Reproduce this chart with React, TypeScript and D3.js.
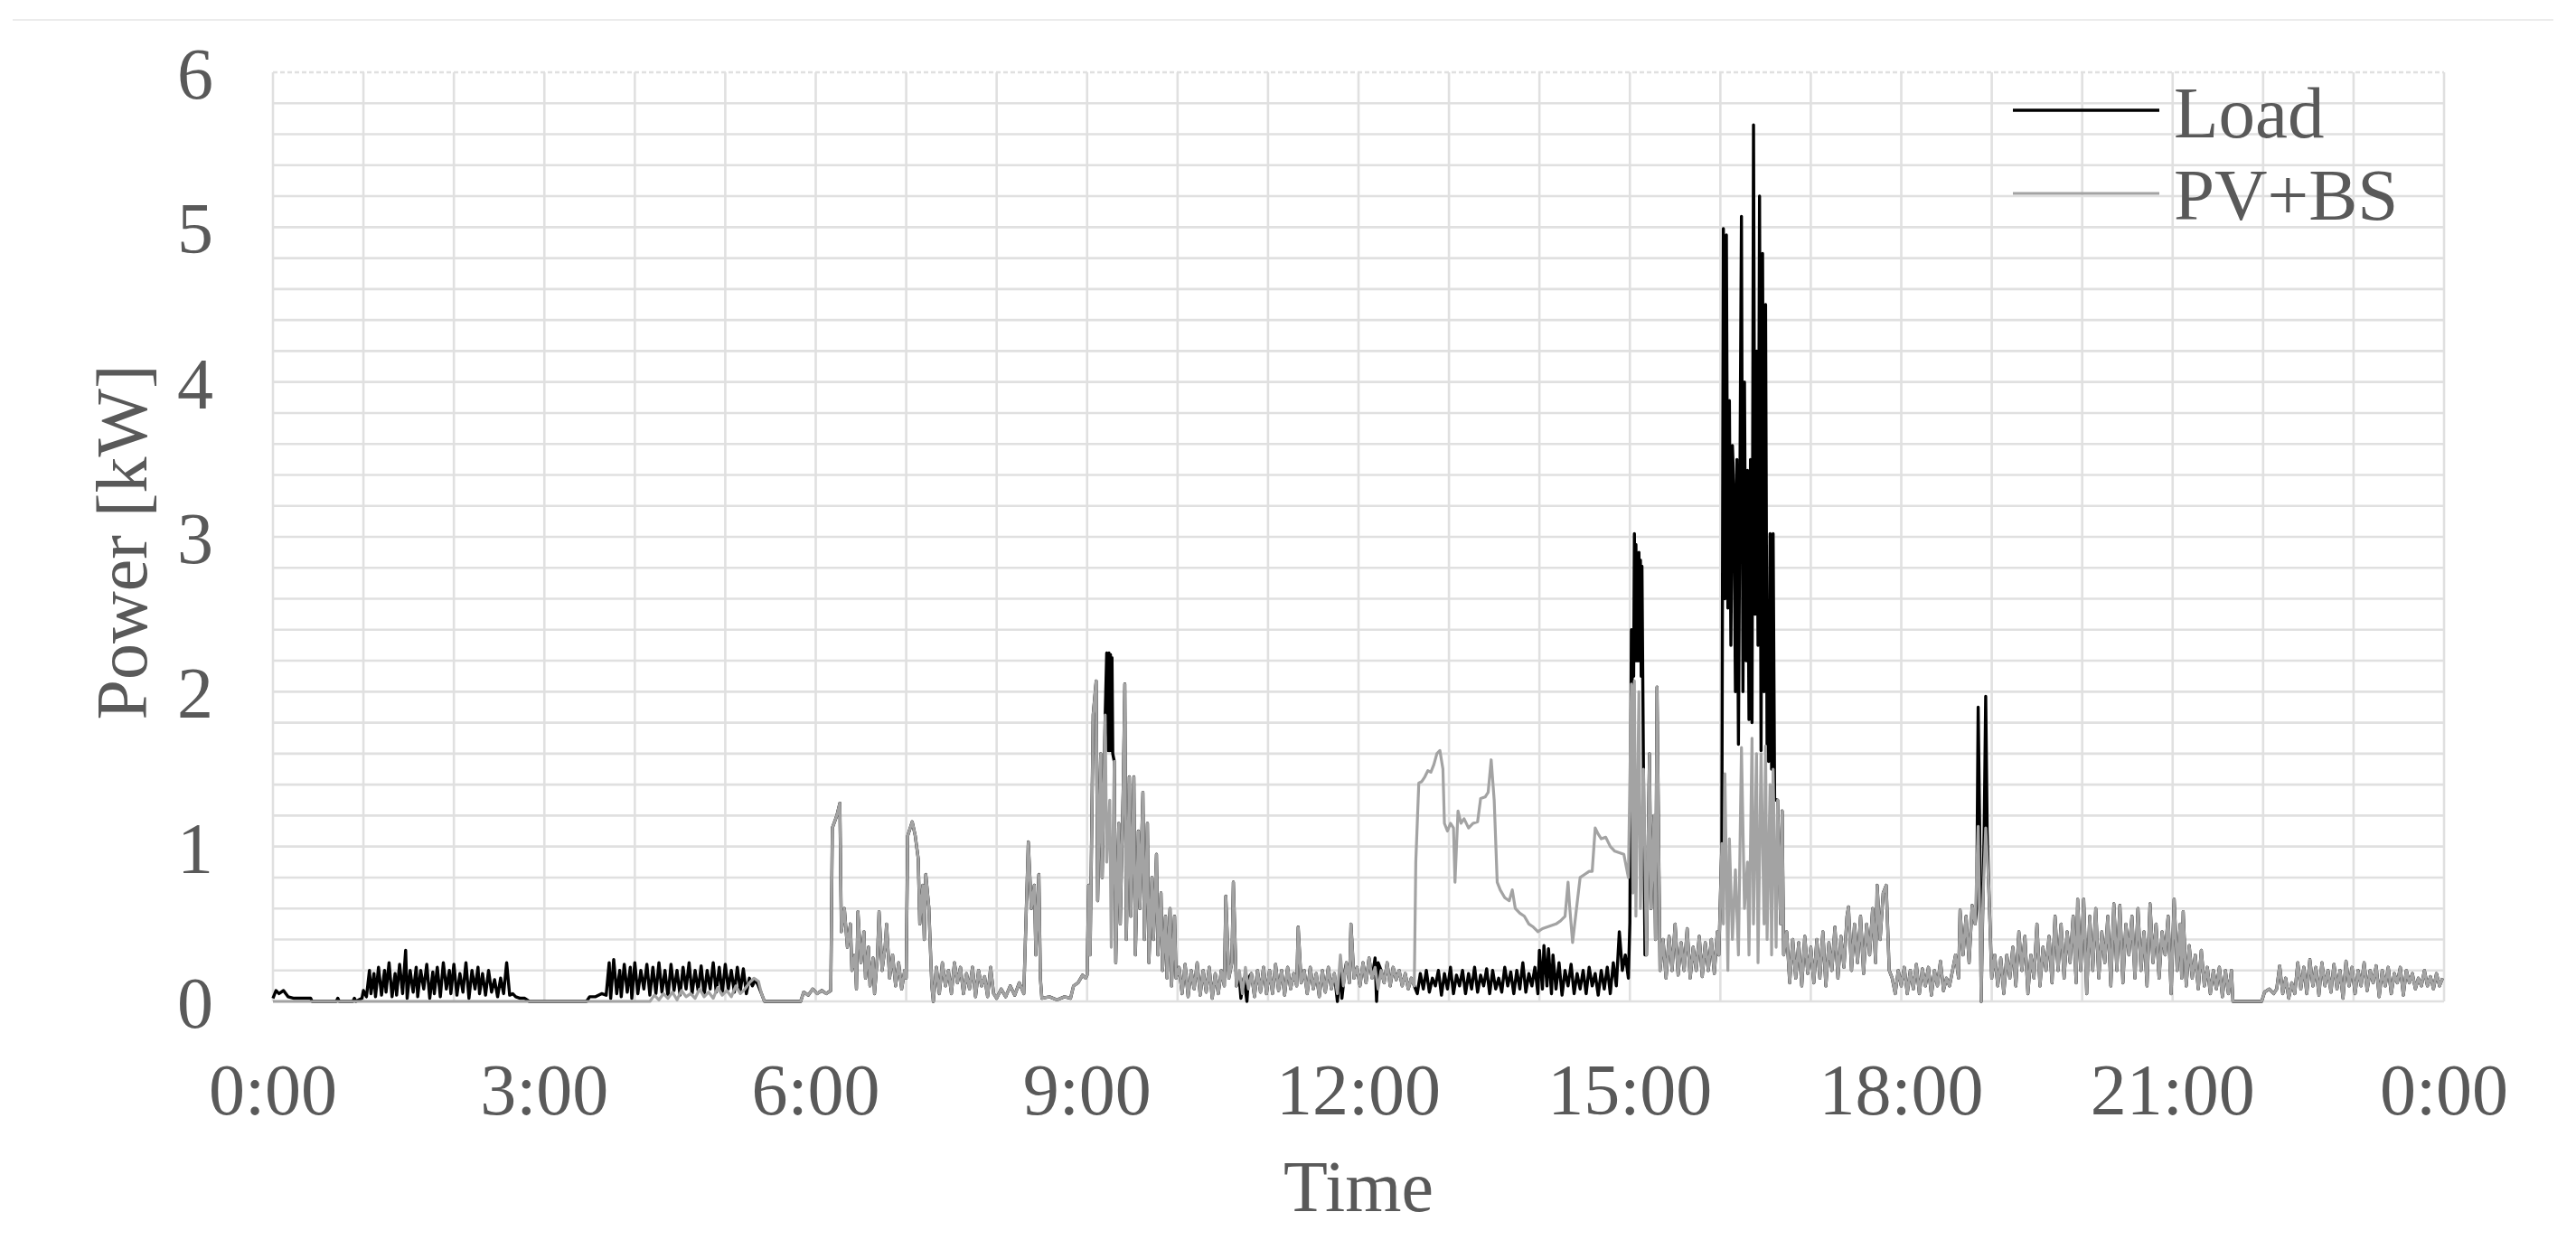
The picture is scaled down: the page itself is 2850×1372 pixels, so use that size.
import React from 'react';
import * as d3 from 'd3';

const W = 2850;
const H = 1372;
const plot = { left: 302, right: 2704, top: 80, bottom: 1108 };

// time axis (minutes since midnight)
const hourTicks = [0, 180, 360, 540, 720, 900, 1080, 1260, 1440];
const hourLabels = ['0:00', '3:00', '6:00', '9:00', '12:00', '15:00', '18:00', '21:00', '0:00'];
const powerTicks = [0, 1, 2, 3, 4, 5, 6];

// PV+BS output, [minute, kW]
const pvbs: [number, number][] = [
  [0, 0], [250, 0],
  [253, 0.04], [256, 0.01], [259, 0.05], [262, 0.02], [265, 0.06], [268, 0.01], [271, 0.07], [274, 0.03], [277, 0.05], [280, 0.02],
  [283, 0.08], [286, 0.03], [289, 0.06], [292, 0.02], [295, 0.09], [298, 0.04], [301, 0.07], [304, 0.03], [307, 0.1], [310, 0.05],
  [313, 0.08], [316, 0.12], [319, 0.15], [322, 0.13], [324, 0.05], [326, 0], [350, 0],
  [352, 0.06], [355, 0.04], [358, 0.08], [361, 0.05], [364, 0.07], [367, 0.05], [370, 0.07],
  // 6:00
  [371, 1.12], [374, 1.2], [376, 1.28], [377, 0.45], [379, 0.6], [381, 0.35], [383, 0.5], [384, 0.2], [386, 0.3], [387, 0.08],
  [388, 0.58], [390, 0.25], [392, 0.45], [393, 0.15], [395, 0.35], [396, 0.1], [398, 0.28], [399, 0.05], [401, 0.3], [402, 0.58],
  [404, 0.2], [406, 0.35], [407, 0.5], [409, 0.15], [411, 0.3], [413, 0.1], [415, 0.25], [417, 0.08], [419, 0.2],
  // 7:00
  [420, 0.15], [421, 1.07], [424, 1.16], [426, 1.07], [428, 0.92], [429, 0.5], [431, 0.75], [432, 0.4], [433, 0.82], [435, 0.61],
  [437, 0.1], [438, 0], [440, 0.22], [442, 0.05], [444, 0.25], [446, 0.1], [448, 0.2], [450, 0.05], [452, 0.25], [454, 0.12],
  [456, 0.22], [458, 0.05], [460, 0.18], [462, 0.08], [464, 0.22], [466, 0.03], [468, 0.2], [470, 0.1], [472, 0.16], [474, 0.03],
  [476, 0.22], [478, 0.05],
  // 8:00
  [480, 0.02], [483, 0.08], [486, 0.03], [489, 0.1], [492, 0.04], [495, 0.12], [498, 0.05], [501, 1.03], [503, 0.6], [505, 0.75],
  [506, 0.3], [508, 0.82], [509, 0.15], [510, 0.02], [515, 0.03], [520, 0.01], [525, 0.03], [529, 0.02], [531, 0.1], [534, 0.12],
  [537, 0.17], [539, 0.15],
  // 9:00
  [540, 0.17], [541, 0.75], [542, 0.3], [544, 1.85], [546, 2.07], [547, 0.65], [549, 1.6], [550, 0.8], [552, 1.85], [553, 0.9],
  [555, 1.3], [556, 0.35], [558, 1.55], [559, 0.25], [561, 1.15], [562, 0.5], [564, 1.4], [565, 2.05], [566, 0.4], [568, 1.45],
  [569, 0.55], [571, 1.45], [572, 0.3], [574, 1.1], [575, 0.6], [577, 1.35], [578, 0.4], [580, 1.15], [581, 0.25], [583, 0.8],
  [584, 0.4], [586, 0.95], [587, 0.3], [589, 0.7], [590, 0.2], [592, 0.55], [593, 0.15], [595, 0.6], [596, 0.1], [598, 0.55],
  [599, 0.15],
  // 10:00
  [601, 0.22], [603, 0.05], [605, 0.24], [607, 0.03], [609, 0.2], [611, 0.08], [613, 0.25], [615, 0.04], [617, 0.2], [619, 0.06],
  [621, 0.22], [623, 0.02], [625, 0.18], [627, 0.05], [629, 0.2], [631, 0.1], [632, 0.68], [634, 0.15], [636, 0.25], [637, 0.77],
  [639, 0.1], [641, 0.2], [643, 0.05], [645, 0.22], [647, 0.08], [649, 0.18], [651, 0.03], [653, 0.2], [655, 0.06], [657, 0.22],
  [659, 0.05],
  // 11:00
  [661, 0.2], [663, 0.05], [665, 0.24], [667, 0.07], [669, 0.2], [671, 0.04], [673, 0.22], [675, 0.08], [677, 0.18], [679, 0.1],
  [680, 0.48], [682, 0.12], [684, 0.2], [686, 0.05], [688, 0.22], [690, 0.08], [692, 0.18], [694, 0.03], [696, 0.2], [698, 0.06],
  [700, 0.22], [702, 0.08], [704, 0.18], [706, 0.05], [708, 0.3], [710, 0.1], [712, 0.25], [714, 0.12], [715, 0.5], [717, 0.15],
  [719, 0.22],
  // 12:00
  [721, 0.1], [723, 0.25], [725, 0.12], [727, 0.28], [729, 0.15], [731, 0.22], [733, 0.08], [735, 0.2], [737, 0.12], [739, 0.25],
  [741, 0.1], [743, 0.22], [745, 0.14], [747, 0.2], [749, 0.1], [751, 0.18], [753, 0.08], [755, 0.15], [757, 0.1], [758, 0.9],
  [760, 1.41], [762, 1.42], [764, 1.45], [766, 1.49], [768, 1.48], [770, 1.53], [772, 1.6], [774, 1.62], [776, 1.5], [777, 1.15],
  [779, 1.1],
  // 13:00
  [781, 1.15], [783, 1.12], [784, 0.77], [786, 1.23], [788, 1.15], [790, 1.18], [793, 1.12], [796, 1.15], [799, 1.16], [801, 1.31],
  [804, 1.32], [806, 1.35], [808, 1.56], [810, 1.3], [812, 0.77], [814, 0.72], [817, 0.67], [820, 0.65], [822, 0.72], [824, 0.6],
  [827, 0.57], [830, 0.55], [833, 0.5], [836, 0.48], [839, 0.45],
  // 14:00
  [842, 0.47], [845, 0.48], [848, 0.49], [851, 0.5], [854, 0.52], [857, 0.55], [859, 0.77], [860, 0.62], [862, 0.38], [864, 0.55],
  [867, 0.8], [870, 0.82], [873, 0.84], [875, 0.84], [877, 1.12], [879, 1.08], [881, 1.05], [884, 1.06], [887, 1.0], [890, 0.97],
  [893, 0.96], [896, 0.95], [899, 0.8],
  // 15:00
  [901, 2.05], [902, 0.7], [903, 2.07], [904, 0.55], [906, 2.0], [907, 0.6], [909, 1.5], [911, 0.3], [913, 1.6], [914, 0.6],
  [916, 1.2], [917, 0.4], [918, 2.03], [920, 0.2], [922, 0.4], [924, 0.15], [926, 0.42], [928, 0.2], [930, 0.5], [932, 0.17],
  [934, 0.38], [936, 0.2], [938, 0.47], [940, 0.15], [942, 0.35], [944, 0.2], [946, 0.42], [948, 0.16], [950, 0.38], [952, 0.2],
  [954, 0.4], [956, 0.18], [958, 0.45], [959, 0.3],
  // 16:00
  [961, 1.02], [962, 0.5], [963, 1.47], [965, 0.2], [966, 1.05], [968, 0.4], [970, 0.85], [972, 0.3], [974, 1.64], [976, 0.6],
  [978, 0.9], [979, 0.3], [981, 1.7], [982, 0.5], [984, 1.6], [985, 0.25], [987, 1.6], [989, 0.5], [990, 1.65], [991, 0.4],
  [993, 1.4], [994, 0.3], [995, 1.5], [997, 0.35], [998, 1.3], [1000, 0.5], [1001, 1.23], [1002, 0.3], [1004, 0.45], [1006, 0.12],
  [1008, 0.4], [1010, 0.15], [1012, 0.38], [1014, 0.1], [1016, 0.42], [1018, 0.18],
  // 17:00
  [1020, 0.35], [1022, 0.12], [1024, 0.4], [1026, 0.15], [1028, 0.45], [1030, 0.1], [1032, 0.38], [1034, 0.2], [1036, 0.48], [1038, 0.15],
  [1040, 0.42], [1042, 0.22], [1044, 0.55], [1045, 0.61], [1047, 0.2], [1049, 0.5], [1051, 0.25], [1053, 0.55], [1055, 0.18], [1057, 0.5],
  [1059, 0.3], [1061, 0.6], [1063, 0.25], [1064, 0.75], [1066, 0.4], [1068, 0.7], [1070, 0.75], [1072, 0.2], [1074, 0.15], [1076, 0.05],
  [1078, 0.2],
  // 18:00
  [1080, 0.1], [1082, 0.22], [1084, 0.05], [1086, 0.2], [1088, 0.08], [1090, 0.24], [1092, 0.05], [1094, 0.21], [1096, 0.1], [1098, 0.22],
  [1100, 0.04], [1102, 0.2], [1104, 0.1], [1106, 0.26], [1108, 0.07], [1110, 0.15], [1112, 0.1], [1114, 0.2], [1116, 0.3], [1118, 0.15],
  [1119, 0.59], [1121, 0.3], [1123, 0.55], [1125, 0.25], [1127, 0.62], [1129, 0.5], [1131, 1.13], [1133, 0], [1134, 0.6], [1136, 1.12],
  [1138, 0.75], [1140, 0.15],
  // 19:00
  [1142, 0.3], [1144, 0.1], [1146, 0.28], [1148, 0.05], [1150, 0.3], [1152, 0.15], [1154, 0.35], [1156, 0.1], [1158, 0.45], [1160, 0.2],
  [1162, 0.42], [1164, 0.05], [1166, 0.3], [1168, 0.15], [1170, 0.5], [1172, 0.1], [1174, 0.35], [1176, 0.2], [1178, 0.42], [1180, 0.12],
  [1182, 0.55], [1184, 0.2], [1186, 0.5], [1188, 0.15], [1190, 0.45], [1192, 0.25], [1194, 0.55], [1196, 0.12], [1197, 0.66], [1199, 0.2],
  // 20:00
  [1201, 0.66], [1203, 0.05], [1205, 0.55], [1207, 0.2], [1209, 0.6], [1211, 0.15], [1213, 0.45], [1215, 0.25], [1217, 0.55], [1219, 0.1],
  [1221, 0.63], [1223, 0.2], [1225, 0.62], [1227, 0.12], [1229, 0.5], [1231, 0.3], [1233, 0.55], [1235, 0.15], [1237, 0.6], [1239, 0.2],
  [1241, 0.45], [1243, 0.1], [1245, 0.63], [1247, 0.25], [1249, 0.5], [1251, 0.15], [1253, 0.45], [1255, 0.3], [1257, 0.55], [1259, 0.05],
  // 21:00
  [1261, 0.66], [1263, 0.2], [1265, 0.5], [1266, 0.15], [1267, 0.58], [1269, 0.1], [1271, 0.36], [1273, 0.15], [1275, 0.3], [1277, 0.08],
  [1279, 0.33], [1281, 0.1], [1283, 0.22], [1285, 0.05], [1287, 0.2], [1289, 0.08], [1291, 0.22], [1293, 0.03], [1295, 0.2], [1297, 0.05],
  [1299, 0.2], [1300, 0], [1319, 0],
  // 22:00
  [1321, 0.06], [1324, 0.08], [1327, 0.05], [1329, 0.08], [1331, 0.23], [1333, 0.05], [1335, 0.15], [1337, 0.02], [1339, 0.12], [1341, 0.05],
  [1343, 0.25], [1345, 0.08], [1347, 0.22], [1349, 0.05], [1351, 0.27], [1353, 0.1], [1355, 0.22], [1357, 0.04], [1359, 0.25], [1361, 0.1],
  [1363, 0.2], [1365, 0.06], [1367, 0.24], [1369, 0.08], [1371, 0.2], [1373, 0.02], [1375, 0.26], [1377, 0.1], [1379, 0.22],
  // 23:00
  [1381, 0.05], [1383, 0.2], [1385, 0.1], [1387, 0.25], [1389, 0.07], [1391, 0.2], [1393, 0.12], [1395, 0.23], [1397, 0.03], [1399, 0.2],
  [1401, 0.1], [1403, 0.22], [1405, 0.05], [1407, 0.18], [1409, 0.12], [1411, 0.22], [1413, 0.04], [1415, 0.2], [1417, 0.12], [1419, 0.18],
  [1421, 0.08], [1423, 0.15], [1425, 0.1], [1427, 0.2], [1429, 0.1], [1431, 0.16], [1433, 0.08], [1435, 0.18], [1437, 0.1], [1439, 0.15],
];

// Load, [minute, kW]: where the black line is visible on its own.
// Everywhere else it runs under the grey PV+BS line.
const loadNight: [number, number][] = [
  [0, 0.02], [2, 0.07], [4, 0.05], [7, 0.07], [10, 0.03], [14, 0.02], [25, 0.02], [26, 0], [42, 0], [43, 0.02], [44, 0],
  [53, 0], [54, 0.02], [55, 0], [59, 0.02], [60, 0.07], [62, 0.03], [64, 0.2], [65, 0.05], [67, 0.18], [68, 0.03], [70, 0.22],
  [72, 0.04], [74, 0.2], [75, 0.06], [77, 0.25], [79, 0.03], [81, 0.18], [82, 0.04], [84, 0.24], [86, 0.05], [88, 0.33], [89, 0.02],
  [91, 0.2], [93, 0.06], [95, 0.22], [96, 0.03], [98, 0.2], [100, 0.08], [102, 0.24], [104, 0.02], [106, 0.19], [107, 0.05],
  [109, 0.22], [111, 0.03], [113, 0.25], [115, 0.08], [117, 0.2], [118, 0.05], [120, 0.24], [122, 0.04], [124, 0.18], [126, 0.06],
  [128, 0.25], [130, 0.02], [132, 0.2], [134, 0.08], [136, 0.22], [137, 0.05], [139, 0.18], [141, 0.04], [143, 0.2], [145, 0.06],
  [147, 0.14], [149, 0.03], [151, 0.15], [153, 0.05], [155, 0.25], [157, 0.04], [159, 0.05], [161, 0.03], [164, 0.02], [167, 0.02],
  [170, 0], [208, 0], [210, 0.03], [214, 0.03], [218, 0.05], [221, 0.04], [223, 0.25], [224, 0.02], [226, 0.27], [228, 0.05],
  [230, 0.2], [231, 0.03], [233, 0.24], [235, 0.06], [237, 0.22], [238, 0.02], [240, 0.25], [242, 0.05], [244, 0.2], [246, 0.08],
  [248, 0.24], [250, 0.04], [252, 0.22], [254, 0.05], [256, 0.25], [258, 0.06], [260, 0.2], [262, 0.03], [264, 0.24], [266, 0.07],
  [268, 0.2], [270, 0.04], [272, 0.22], [274, 0.08], [276, 0.25], [278, 0.05], [280, 0.2], [282, 0.07], [284, 0.23], [286, 0.04],
  [288, 0.2], [290, 0.08], [292, 0.25], [294, 0.06], [296, 0.22], [298, 0.05], [300, 0.24], [302, 0.08], [304, 0.2], [306, 0.06],
  [308, 0.22], [310, 0.07], [312, 0.21], [314, 0.05], [316, 0.15], [318, 0.1], [320, 0.14], [322, 0.1], [324, 0.05], [326, 0],
  [350, 0],
];
const loadNine: [number, number][] = [
  [552, 1.85], [553, 2.25], [554, 1.62], [554.5, 2.25], [555, 1.62], [555.5, 2.24], [556, 1.62], [556.5, 2.22], [557, 1.6],
];
const loadTenForty: [number, number][] = [[641, 0.15], [642, 0.02], [644, 0.15], [646, 0], [647, 0.15]];
const loadElevenFifty: [number, number][] = [[706, 0], [708, 0.2], [709, 0.02], [711, 0.2]];
const loadNoon: [number, number][] = [[731, 0.28], [732, 0], [733, 0.25]];
const loadAfternoon: [number, number][] = [
  [757, 0.1], [759, 0.05], [761, 0.18], [763, 0.08], [765, 0.2], [767, 0.06], [769, 0.15], [771, 0.1], [773, 0.2], [775, 0.04],
  [777, 0.18], [779, 0.08], [781, 0.22], [783, 0.05], [785, 0.17], [787, 0.1], [789, 0.2], [791, 0.05], [793, 0.18], [795, 0.08],
  [797, 0.22], [799, 0.06], [801, 0.17], [803, 0.1], [805, 0.21], [807, 0.05], [809, 0.2], [811, 0.08], [813, 0.15], [815, 0.06],
  [817, 0.22], [819, 0.1], [821, 0.19], [823, 0.05], [825, 0.2], [827, 0.08], [829, 0.25], [831, 0.06], [833, 0.18], [835, 0.1],
  [837, 0.22], [839, 0.05], [840, 0.33], [842, 0.08], [843, 0.36], [845, 0.1], [846, 0.34], [848, 0.05], [849, 0.3], [851, 0.08],
  [853, 0.25], [855, 0.04], [857, 0.2], [859, 0.1], [861, 0.24], [863, 0.05], [865, 0.18], [867, 0.08], [869, 0.2], [871, 0.05],
  [873, 0.22], [875, 0.1], [877, 0.18], [879, 0.04], [881, 0.2], [883, 0.08], [885, 0.22], [887, 0.05], [889, 0.25], [891, 0.1],
  [893, 0.45], [895, 0.2], [897, 0.3], [899, 0.15], [900, 0.51], [901, 2.4], [901.5, 2.05], [902, 2.4], [902.5, 2.1], [903, 3.02],
  [903.5, 2.2], [904, 2.95], [905, 2.2], [906, 2.9], [906.5, 2.2], [907, 2.85], [907.5, 2.1], [908, 2.81], [909, 1.5], [910, 0.3],
];
const loadPeak: [number, number][] = [
  [961, 1.02], [962, 4.99], [963, 2.6], [964, 4.95], [965, 2.54], [966, 3.88], [967, 2.3], [968, 3.59], [969, 3.3], [970, 2.0],
  [971, 3.5], [972, 1.66], [974, 5.07], [975, 2.0], [976, 4.0], [977, 2.2], [978, 3.43], [979, 1.82], [980, 3.5], [981, 1.8],
  [982, 5.66], [983, 2.5], [984, 4.2], [985, 2.3], [986, 5.2], [987, 1.62], [988, 4.83], [989, 2.0], [990, 4.5], [991, 1.62],
  [992, 1.55], [993, 3.02], [994, 1.5], [995, 3.02], [996, 1.31], [997, 1.3],
];
const loadEvening: [number, number][] = [
  [1130, 0.6], [1131, 1.9], [1132, 1.13], [1133, 0], [1135, 1.12], [1136, 1.97], [1137, 1.1], [1138, 0.75],
];
const loadImport = [loadNight, loadNine, loadTenForty, loadElevenFifty, loadNoon, loadAfternoon, loadPeak, loadEvening];

// the load equals PV+BS outside the windows above
function buildLoad(): [number, number][] {
  const spans = loadImport.map((w) => [w[0][0] - 0.5, w[w.length - 1][0] + 0.5]);
  const shared = pvbs.filter(([m]) => !spans.some(([a, b]) => m >= a && m <= b));
  return [...shared, ...loadImport.flat()].sort((a, b) => a[0] - b[0]);
}

const FONT = '"Liberation Serif", "Times New Roman", serif';
const TEXT = '#595959';
const GRID = '#e0e0e0';

export default function App() {
  const x = d3.scaleLinear().domain([0, 1440]).range([plot.left, plot.right]);
  const y = d3.scaleLinear().domain([0, 6]).range([plot.bottom, plot.top]);
  const line = d3
    .line<[number, number]>()
    .x((d) => x(d[0]))
    .y((d) => y(d[1]));

  const load = buildLoad();
  const hLines = y.ticks(30);
  const vLines = d3.range(0, 1441, 60);

  return (
    <svg
      width={W}
      height={H}
      style={{ position: 'absolute', left: 0, top: 0, background: '#fff' }}
      fontFamily={FONT}
    >
      <rect width={W} height={H} fill="#fff" />
      <line x1={14} x2={2825} y1={22} y2={22} stroke="#ececec" strokeWidth={2} />

      <g>
        {hLines.map((v, i) => (
          <line
            key={'h' + i}
            x1={plot.left}
            x2={plot.right}
            y1={y(v)}
            y2={y(v)}
            stroke={GRID}
            strokeWidth={2.6}
            strokeDasharray={v === 6 ? '5 3' : undefined}
          />
        ))}
        {vLines.map((m) => (
          <line
            key={'v' + m}
            x1={x(m)}
            x2={x(m)}
            y1={plot.top}
            y2={plot.bottom}
            stroke={GRID}
            strokeWidth={2.6}
          />
        ))}
      </g>

      <path d={line(load) ?? ''} fill="none" stroke="#000" strokeWidth={3.4} strokeLinejoin="round" />
      <path d={line(pvbs) ?? ''} fill="none" stroke="#a3a3a3" strokeWidth={3.2} strokeLinejoin="round" />

      <g fill={TEXT} fontSize={80}>
        {powerTicks.map((v) => (
          <text key={v} x={236} y={y(v) + 29} textAnchor="end">
            {v}
          </text>
        ))}
        {hourTicks.map((m, i) => (
          <text key={i} x={x(m)} y={1233} textAnchor="middle">
            {hourLabels[i]}
          </text>
        ))}
        <text x={(plot.left + plot.right) / 2} y={1340} textAnchor="middle">
          Time
        </text>
        <text transform="translate(162,600) rotate(-90)" textAnchor="middle">
          Power [kW]
        </text>
      </g>

      <g fontSize={81} fill={TEXT}>
        <line x1={2227} x2={2389} y1={122} y2={122} stroke="#000" strokeWidth={3.4} />
        <text x={2405} y={152}>Load</text>
        <line x1={2227} x2={2389} y1={214} y2={214} stroke="#a3a3a3" strokeWidth={3} />
        <text x={2405} y={243}>PV+BS</text>
      </g>
    </svg>
  );
}
